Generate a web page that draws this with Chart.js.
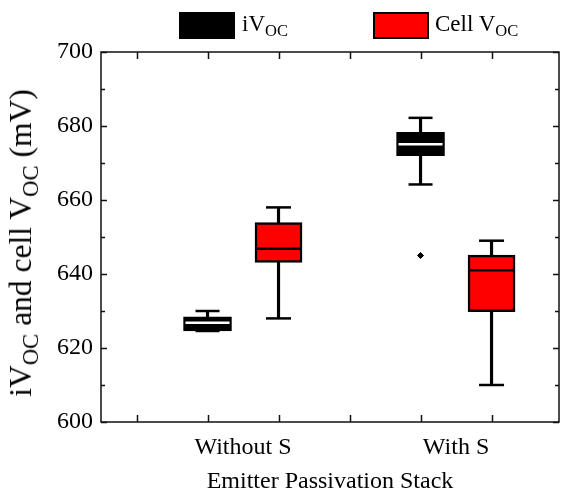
<html>
<head>
    <title>Voc box plot</title>
    <script src="https://cdn.jsdelivr.net/npm/chart.js"></script>
    <style>
        body { margin: 0; background: #fff; }
        #wrap { position: relative; width: 561px; height: 496px; font-family: "Liberation Serif", serif; color: #000; }
        .legbox { position: absolute; top: 12px; width: 56px; height: 27px; box-sizing: border-box; }
        .legtext { position: absolute; top: 9px; font-size: 23px; line-height: 30px; white-space: nowrap; }
        sub { font-size: 0.72em; vertical-align: -0.32em; line-height: 0; }
        #ytitle { position: absolute; left: 21px; top: 243px; font-size: 31.5px; line-height: 36px; white-space: nowrap;
                  transform: translate(-50%, -50%) rotate(-90deg); }
    </style>
</head>
<body>
<div id="wrap">
    <canvas id="box" width="561" height="496"></canvas>
    <div class="legbox" style="left:179px; background:#000;"></div>
    <div class="legtext" style="left:242px;">iV<sub>OC</sub></div>
    <div class="legbox" style="left:373px; background:#f00; border:2px solid #000;"></div>
    <div class="legtext" style="left:435px;">Cell V<sub>OC</sub></div>
    <div id="ytitle">iV<sub>OC</sub> and cell V<sub>OC</sub> (mV)</div>
</div>
<script>
    // groups on the x axis
    const groups = ["Without S", "With S"]
    const xTitle = "Emitter Passivation Stack"

    // iVoc box stats (mV), one per group
    const ivocMin = [624.6, 664.2]
    const ivocQ1 = [624.6, 672.0]
    const ivocMed = [626.8, 675.1]
    const ivocQ3 = [628.4, 678.3]
    const ivocMax = [630.0, 682.2]
    const ivocOutliers = [[], [645.0]]

    // cell Voc box stats (mV)
    const cellMin = [628.0, 610.0]
    const cellQ1 = [643.1, 629.8]
    const cellMed = [646.8, 641.0]
    const cellQ3 = [653.9, 645.1]
    const cellMax = [658.0, 649.0]

    // y axis
    const yMin = 600
    const yMax = 700
    const yStep = 20

    // x position of a box: group centre -/+ a quarter
    const center = i => 1.25 + i * 1.5
    const xIvoc = i => center(i) - 0.25
    const xCell = i => center(i) + 0.25

    function boxes(xf, q1, q3) {
        return groups.map((g, i) => ({ x: xf(i), y: [q1[i], q3[i]] }))
    }
    function whiskers(xf, lo, hi) {
        return groups.map((g, i) => ({ x: xf(i), y: [lo[i], hi[i]] }))
    }
    function points(xf, arr) {
        return groups.map((g, i) => ({ x: xf(i), y: arr[i] }))
    }
    function caps(xf, lo, hi) {
        return points(xf, lo).concat(points(xf, hi))
    }

    const ivocOut = []
    ivocOutliers.forEach((list, i) => list.forEach(v => ivocOut.push({ x: xIvoc(i), y: v })))

    // inward tick marks + frame, drawn from the scales
    const frameTicks = {
        id: "frameTicks",
        afterDraw(chart) {
            const ctx = chart.ctx
            const a = chart.chartArea
            const xs = chart.scales.x
            const ys = chart.scales.y
            ctx.save()
            ctx.strokeStyle = "#111"
            ctx.lineWidth = 1.5
            ctx.strokeRect(a.left, a.top, a.right - a.left, a.bottom - a.top)
            ctx.beginPath()
            for (let v = 0.5; v <= 3.0001; v += 0.5) {
                const px = Math.round(xs.getPixelForValue(v)) + 0.5
                ctx.moveTo(px, a.bottom); ctx.lineTo(px, a.bottom - 7)
                ctx.moveTo(px, a.top); ctx.lineTo(px, a.top + 7)
            }
            const vals = ys.ticks.map(t => t.value)
            vals.forEach((v, k) => {
                const py = Math.round(ys.getPixelForValue(v)) + 0.5
                ctx.moveTo(a.left, py); ctx.lineTo(a.left + 6, py)
                ctx.moveTo(a.right, py); ctx.lineTo(a.right - 6, py)
                if (k < vals.length - 1) {
                    const pm = Math.round(ys.getPixelForValue((v + vals[k + 1]) / 2)) + 0.5
                    ctx.moveTo(a.left, pm); ctx.lineTo(a.left + 4, pm)
                    ctx.moveTo(a.right, pm); ctx.lineTo(a.right - 4, pm)
                }
            })
            ctx.stroke()
            ctx.restore()
        }
    }

    const font = { family: "'Liberation Serif', serif", size: 24 }

    new Chart(document.getElementById("box"), {
        type: "bar",
        data: {
            datasets: [
                // medians
                { type: "scatter", label: "ivoc median", data: points(xIvoc, ivocMed), pointStyle: "line",
                  radius: 22, borderColor: "#fff", borderWidth: 2.5, order: 0 },
                { type: "scatter", label: "cell median", data: points(xCell, cellMed), pointStyle: "line",
                  radius: 23, borderColor: "#000", borderWidth: 2.5, order: 0 },
                { type: "scatter", label: "ivoc outlier", data: ivocOut, pointStyle: "rectRot",
                  radius: 3, backgroundColor: "#000", borderColor: "#000", borderWidth: 1, order: 0 },
                // boxes
                { label: "iVOC", data: boxes(xIvoc, ivocQ1, ivocQ3), backgroundColor: "#000", borderColor: "#000",
                  borderWidth: 2, borderSkipped: false, barThickness: 48, order: 1 },
                { label: "Cell VOC", data: boxes(xCell, cellQ1, cellQ3), backgroundColor: "#f00", borderColor: "#000",
                  borderWidth: 2.5, borderSkipped: false, barThickness: 47, order: 1 },
                // whisker caps
                { type: "scatter", label: "ivoc caps", data: caps(xIvoc, ivocMin, ivocMax), pointStyle: "line",
                  radius: 12, borderColor: "#000", borderWidth: 2.5, order: 2 },
                { type: "scatter", label: "cell caps", data: caps(xCell, cellMin, cellMax), pointStyle: "line",
                  radius: 12.5, borderColor: "#000", borderWidth: 2.5, order: 2 },
                // whisker stems
                { label: "ivoc whisker", data: whiskers(xIvoc, ivocMin, ivocMax), backgroundColor: "#000",
                  barThickness: 2.5, order: 3 },
                { label: "cell whisker", data: whiskers(xCell, cellMin, cellMax), backgroundColor: "#000",
                  barThickness: 2.5, order: 3 }
            ]
        },
        options: {
            responsive: false,
            animation: false,
            events: [],
            grouped: false,
            layout: { autoPadding: false, padding: { top: 52, right: 2, left: 0, bottom: 0 } },
            plugins: { legend: { display: false }, tooltip: { enabled: false } },
            scales: {
                x: {
                    type: "linear", min: 0.25, max: 3.475, offset: false,
                    grid: { display: false, drawTicks: false }, border: { display: false },
                    afterBuildTicks: s => { s.ticks = groups.map((g, i) => ({ value: center(i) })) },
                    ticks: { callback: (v, i) => groups[i], font: font, color: "#000", padding: 11, maxRotation: 0 },
                    title: { display: true, text: xTitle, font: font, color: "#000", padding: { top: 5, bottom: 0 } },
                    afterFit: s => { s.height = 74 }
                },
                y: {
                    min: yMin, max: yMax,
                    grid: { display: false, drawTicks: false }, border: { display: false },
                    ticks: { stepSize: yStep, font: font, color: "#000", padding: 8 },
                    afterFit: s => { s.width = 101 }
                }
            }
        },
        plugins: [frameTicks]
    })
</script>
</body>
</html>
